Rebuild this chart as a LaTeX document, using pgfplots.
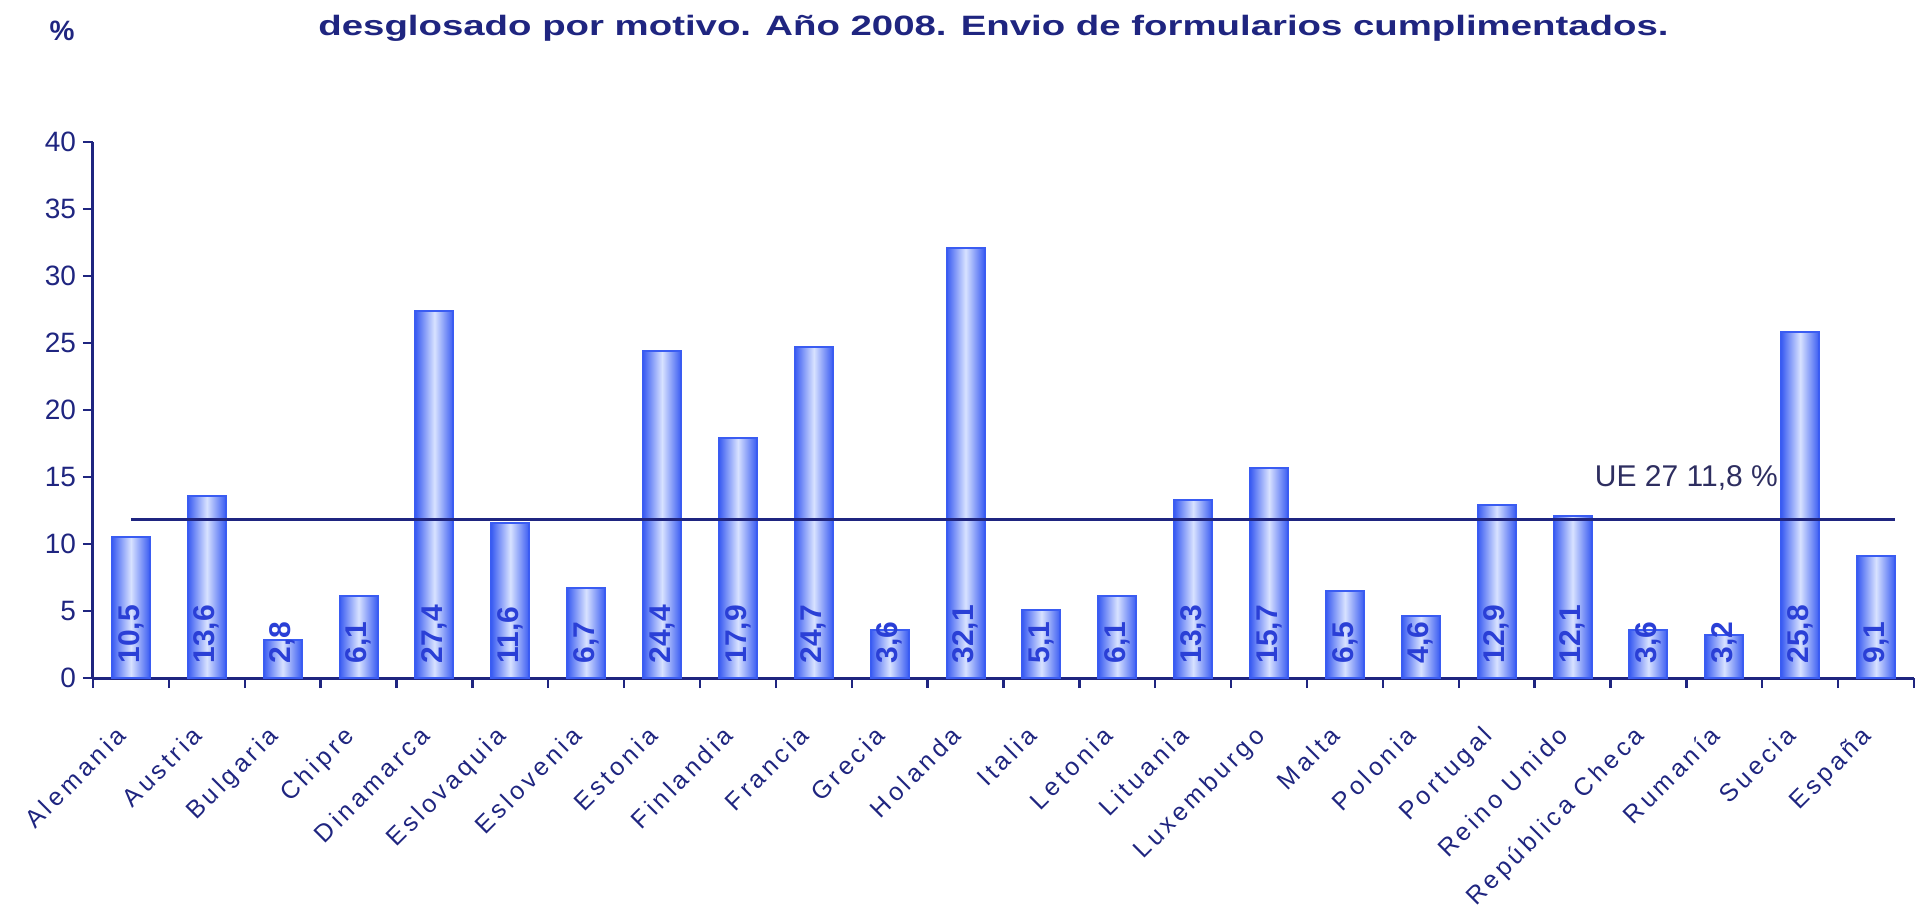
\documentclass[border=0pt]{standalone}
\usepackage{pgfplots}
\pgfplotsset{compat=1.18}
\usepackage{pgfplotstable}
\usepackage{fontspec}
\usepackage{graphicx}
\setmainfont{Liberation Sans}
\newfontfamily\lblfont[LetterSpace=15]{Liberation Sans}
\definecolor{navy}{HTML}{1F2580}
\definecolor{barblue}{HTML}{3A5CF2}
\definecolor{barlight}{HTML}{D8E2FF}
\definecolor{lblblue}{HTML}{2A3FD6}
\definecolor{uetext}{HTML}{2E2E60}

\pgfplotstableread{
x y
0 10.5
1 13.6
2 2.8
3 6.1
4 27.4
5 11.6
6 6.7
7 24.4
8 17.9
9 24.7
10 3.6
11 32.1
12 5.1
13 6.1
14 13.3
15 15.7
16 6.5
17 4.6
18 12.9
19 12.1
20 3.6
21 3.2
22 25.8
23 9.1
}\datatable

\begin{document}
\begin{tikzpicture}
\path[use as bounding box] (-46.5pt,-118pt) rectangle (918.5pt,339pt);
\begin{axis}[
  scale only axis,
  width=910.5pt, height=268pt,
  xmin=-0.5, xmax=23.5, ymin=0, ymax=40,
  clip=false,
  axis lines*=left,
  axis line style={navy, line width=1.5pt},
  tick style={navy, line width=1.2pt},
  tick align=outside,
  major tick length=5pt,
  ytick={0,5,...,40},
  xtick={-0.5,0.5,...,23.5},
  xticklabels={Alemania,Austria,Bulgaria,Chipre,Dinamarca,Eslovaquia,Eslovenia,Estonia,Finlandia,Francia,Grecia,Holanda,Italia,Letonia,Lituania,Luxemburgo,Malta,Polonia,Portugal,Reino Unido,República Checa,Rumanía,Suecia,España,{}},
  xticklabel style={xshift=11pt, yshift=-18pt, rotate=45, anchor=north east, inner sep=0pt, text=navy, font=\lblfont\fontsize{12.5}{13}\selectfont},
  yticklabel style={text=navy, font=\fontsize{14}{15}\selectfont},
  /pgf/number format/assume math mode=true,
]
\pgfplotsinvokeforeach{0,...,23}{
  \addplot[ybar, bar width=0.5, bar shift=0pt, draw=barblue, line width=1pt,
    left color=barblue, right color=barblue, middle color=barlight,
    x filter/.expression={abs(x-#1)<0.25 ? x : nan}, forget plot]
    table[x=x, y=y] {\datatable};
}
\addplot[draw=none, mark=none,
  point meta=\thisrow{y},
  nodes near coords={\pgfmathprintnumber[fixed,fixed zerofill,precision=1,use comma]{\pgfplotspointmeta}},
  nodes near coords style={rotate=90, anchor=west, inner xsep=7pt, inner ysep=0pt,
     text=lblblue, font=\bfseries\fontsize{15}{15}\selectfont}]
  table[x=x, y expr=0] {\datatable};
\addplot[navy, line width=1.5pt] coordinates {(0,11.8) (23.25,11.8)};
\node[text=uetext, font=\fontsize{15}{16}\selectfont] at (axis cs:20.5,14.9) {UE 27 11,8 \%};
\end{axis}
\node[text=navy, font=\bfseries\fontsize{14}{16}\selectfont] at (450.25pt,325pt)
  {\resizebox{675pt}{\height}{desglosado por motivo. Año 2008. Envio de formularios cumplimentados.}};
\node[text=navy, font=\bfseries\fontsize{14}{16}\selectfont] at (-15.5pt,323.5pt) {\%};
\end{tikzpicture}
\end{document}
